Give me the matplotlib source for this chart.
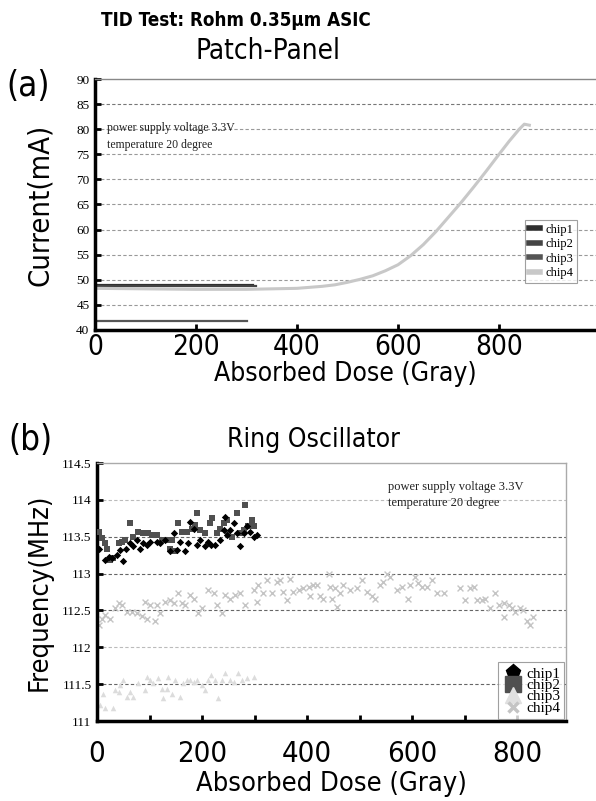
import matplotlib
matplotlib.use("Agg")
import matplotlib.pyplot as plt
from matplotlib.lines import Line2D

# ---------------- data: panel (a) Patch-Panel current ----------------
a_chip1_dose = [0, 313]
a_chip1_cur = [48.9, 48.9]
a_chip2_dose = [0, 318]
a_chip2_cur = [48.7, 48.7]
a_chip3_dose = [0, 301]
a_chip3_cur = [41.7, 41.7]
a_chip4_dose = [0, 100, 200, 300, 400, 425, 450, 475, 500, 525, 550, 575, 600, 625, 650, 675, 700,
                725, 750, 775, 800, 820, 840, 850, 860]
a_chip4_cur = [48.3, 48.2, 48.1, 48.1, 48.3, 48.5, 48.7, 49.0, 49.5, 50.1, 50.8, 51.8, 53.0, 54.8,
               57.0, 59.6, 62.5, 65.4, 68.5, 71.7, 75.0, 77.6, 80.0, 81.0, 80.8]

# ---------------- data: panel (b) Ring Oscillator frequency ----------------
b_chip1_dose = [3, 15, 22, 28, 38, 44, 50, 56, 63, 69, 76, 82, 88, 95, 101, 114, 120, 130, 139, 146,
                152, 158, 168, 174, 177, 184, 190, 196, 206, 212, 218, 225, 234, 241, 244, 247, 253,
                260, 266, 272, 279, 285, 291, 298, 304]
b_chip1_freq = [113.34, 113.18, 113.23, 113.21, 113.25, 113.32, 113.17, 113.34, 113.41, 113.37, 113.46,
                113.34, 113.41, 113.39, 113.43, 113.43, 113.41, 113.46, 113.30, 113.55, 113.32, 113.43,
                113.30, 113.41, 113.70, 113.61, 113.39, 113.46, 113.37, 113.43, 113.39, 113.39, 113.46,
                113.59, 113.77, 113.52, 113.59, 113.68, 113.55, 113.37, 113.55, 113.64, 113.57, 113.50,
                113.52]
b_chip2_dose = [3, 9, 15, 19, 25, 31, 41, 47, 53, 63, 69, 79, 88, 98, 104, 114, 123, 133, 139, 142,
                149, 155, 161, 171, 180, 187, 190, 196, 206, 215, 219, 228, 234, 241, 247, 250, 257,
                266, 272, 279, 282, 288, 295, 298]
b_chip2_freq = [113.57, 113.48, 113.41, 113.34, 113.18, 113.21, 113.41, 113.43, 113.46, 113.68, 113.50,
                113.57, 113.55, 113.55, 113.52, 113.52, 113.46, 113.46, 113.34, 113.46, 113.30, 113.68,
                113.57, 113.57, 113.61, 113.66, 113.82, 113.59, 113.55, 113.68, 113.75, 113.55, 113.61,
                113.68, 113.73, 113.55, 113.50, 113.82, 113.55, 113.59, 113.93, 113.64, 113.73, 113.64]
b_chip3_dose = [6, 12, 15, 31, 34, 41, 44, 50, 57, 63, 69, 79, 91, 95, 101, 107, 117, 123, 126, 133,
                136, 142, 149, 158, 164, 171, 177, 184, 190, 199, 206, 212, 218, 225, 231, 238, 244,
                253, 260, 269, 276, 285, 298]
b_chip3_freq = [111.22, 111.37, 111.17, 111.17, 111.42, 111.40, 111.49, 111.56, 111.33, 111.40, 111.33,
                111.51, 111.42, 111.60, 111.56, 111.51, 111.58, 111.44, 111.31, 111.44, 111.60, 111.37,
                111.56, 111.33, 111.51, 111.56, 111.56, 111.53, 111.56, 111.49, 111.42, 111.56, 111.62,
                111.56, 111.31, 111.56, 111.65, 111.56, 111.53, 111.65, 111.56, 111.58, 111.60]
b_chip4_dose = [3, 9, 15, 25, 34, 41, 47, 57, 66, 76, 85, 91, 95, 101, 111, 114, 120, 130, 139, 146,
                155, 161, 168, 177, 184, 193, 200, 212, 222, 228, 238, 244, 253, 263, 272, 282, 298,
                304, 307, 317, 323, 333, 342, 349, 355, 361, 368, 374, 384, 393, 403, 406, 412, 418,
                425, 431, 441, 444, 447, 453, 457, 463, 469, 482, 495, 504, 514, 523, 530, 539, 545,
                552, 558, 571, 580, 593, 596, 606, 612, 618, 628, 638, 647, 660, 692, 701, 711, 717,
                723, 733, 739, 749, 758, 765, 774, 774, 784, 790, 796, 806, 812, 818, 825, 831]
b_chip4_freq = [112.30, 112.39, 112.44, 112.39, 112.53, 112.60, 112.57, 112.48, 112.48, 112.46, 112.42,
                112.62, 112.39, 112.57, 112.35, 112.57, 112.46, 112.62, 112.64, 112.60, 112.73, 112.60,
                112.57, 112.71, 112.66, 112.46, 112.53, 112.78, 112.73, 112.57, 112.46, 112.71, 112.66,
                112.71, 112.73, 112.57, 112.78, 112.62, 112.84, 112.73, 112.91, 112.73, 112.89, 112.91,
                112.75, 112.64, 112.93, 112.75, 112.78, 112.80, 112.82, 112.69, 112.84, 112.84, 112.69,
                112.66, 113.00, 112.82, 112.66, 112.80, 112.55, 112.73, 112.84, 112.78, 112.80, 112.91,
                112.75, 112.69, 112.66, 112.84, 112.89, 113.00, 112.96, 112.78, 112.82, 112.66, 112.84,
                112.96, 112.87, 112.82, 112.82, 112.91, 112.73, 112.73, 112.80, 112.64, 112.80, 112.82,
                112.64, 112.64, 112.66, 112.53, 112.73, 112.57, 112.60, 112.41, 112.57, 112.53, 112.48,
                112.53, 112.50, 112.35, 112.30, 112.41]

chip_labels = ["chip1", "chip2", "chip3", "chip4"]
a_yticks = [40, 45, 50, 55, 60, 65, 70, 75, 80, 85, 90]
b_yticks = [111, 111.5, 112, 112.5, 113, 113.5, 114, 114.5]
b_ytick_labels = ["111", "111.5", "112", "112.5", "113", "113.5", "114", "114.5"]
x_big_ticks = [0, 200, 400, 600, 800]

# ---------------- styling ----------------
SANS = ["DejaVu Sans"]
SERIF = ["Liberation Serif", "DejaVu Serif"]
sans_kw = dict(family=SANS, stretch="condensed")

W, H = 596, 801
fig = plt.figure(figsize=(W / 100, H / 100), dpi=100)

def ax_rect(l, t, r, b):
    return [l / W, 1 - b / H, (r - l) / W, (b - t) / H]

# ================= panel (a) =================
axa = fig.add_axes(ax_rect(95, 79, 596, 330))
axa.plot(a_chip1_dose, a_chip1_cur, color="#2e2e2e", lw=1.6, label=chip_labels[0])
axa.plot(a_chip2_dose, a_chip2_cur, color="#444444", lw=1.6, label=chip_labels[1])
axa.plot(a_chip3_dose, a_chip3_cur, color="#555555", lw=1.6, label=chip_labels[2])
axa.plot(a_chip4_dose, a_chip4_cur, color="#c8c8c8", lw=2.2, label=chip_labels[3])
axa.set_xlim(0, 992)
axa.set_ylim(40, 90)
axa.set_yticks(a_yticks)
axa.set_yticklabels([str(v) for v in a_yticks], family=SERIF, fontsize=9.5)
axa.set_xticks(x_big_ticks)
axa.set_xticklabels([str(v) for v in x_big_ticks], fontsize=20, **sans_kw)
axa.tick_params(axis="both", direction="in", length=4, width=2, color="black")
axa.tick_params(axis="x", pad=2)
axa.tick_params(axis="y", pad=4)
for v in a_yticks[1:-1]:
    axa.axhline(v, color="#777777" if v == 85 else "#999999", lw=0.8, ls=(0, (3, 2)), zorder=0)
axa.spines["left"].set_linewidth(2.5)
axa.spines["bottom"].set_linewidth(2.5)
axa.spines["top"].set_color("#888888")
axa.spines["top"].set_linewidth(1.0)
axa.spines["right"].set_visible(False)
axa.text(0.024, 0.77, "power supply voltage 3.3V\ntemperature 20 degree", transform=axa.transAxes,
         family=SERIF, fontsize=8.5, va="center", ha="left", linespacing=1.5, color="#222222")
leg_a = axa.legend(loc="upper left", bbox_to_anchor=((525 - 95) / 501, (330 - 220) / 251),
                   prop={"family": SERIF, "size": 9}, frameon=True, fancybox=False,
                   handlelength=0.9, handletextpad=0.4, borderpad=0.3, labelspacing=0.2,
                   borderaxespad=0)
leg_a.get_frame().set_edgecolor("#888888")
leg_a.get_frame().set_linewidth(0.8)
for lh in leg_a.get_lines():
    lh.set_linewidth(4)

axa.set_xlabel("Absorbed Dose (Gray)", fontsize=19, labelpad=0, **sans_kw)
fig.text(40 / W, 1 - 205 / H, "Current(mA)", rotation=90, ha="center", va="center",
         fontsize=21, **sans_kw)

# ================= panel (b) =================
axb = fig.add_axes(ax_rect(97, 463, 566, 721))
axb.scatter(b_chip4_dose, b_chip4_freq, marker="x", s=18, color="#c4c4c4", linewidths=1.0,
            label=chip_labels[3], zorder=2)
axb.scatter(b_chip3_dose, b_chip3_freq, marker="^", s=16, color="#dcdcdc", linewidths=0,
            label=chip_labels[2], zorder=2)
axb.scatter(b_chip2_dose, b_chip2_freq, marker="s", s=24, color="#505050", linewidths=0,
            label=chip_labels[1], zorder=3)
axb.scatter(b_chip1_dose, b_chip1_freq, marker="D", s=14, color="black", linewidths=0,
            label=chip_labels[0], zorder=4)
axb.set_xlim(0, 893)
axb.set_ylim(111, 114.5)
axb.set_yticks(b_yticks)
axb.set_yticklabels(b_ytick_labels, family=SERIF, fontsize=9.5)
axb.set_xticks(list(range(0, 900, 100)))
axb.set_xticklabels([str(v) if v in x_big_ticks else "" for v in range(0, 900, 100)],
                    fontsize=21, **sans_kw)
axb.tick_params(axis="both", direction="in", length=4, width=2, color="black")
axb.tick_params(axis="x", pad=14)
axb.tick_params(axis="y", pad=4)
for v in b_yticks[1:-1]:
    axb.axhline(v, color="#bbbbbb" if v in (114, 112) else "#666666", lw=0.8,
                ls=(0, (3, 2)), zorder=0)
axb.spines["left"].set_linewidth(2.5)
axb.spines["bottom"].set_linewidth(2.5)
for s in ("top", "right"):
    axb.spines[s].set_color("#aaaaaa")
    axb.spines[s].set_linewidth(1.0)
axb.text(0.62, 0.875, "power supply voltage 3.3V\ntemperature 20 degree", transform=axb.transAxes,
         family=SERIF, fontsize=9, va="center", ha="left", linespacing=1.4, color="#222222")
handles = [
    Line2D([], [], ls="none", marker="p", ms=11, color="black"),
    Line2D([], [], ls="none", marker="s", ms=11, color="#505050"),
    Line2D([], [], ls="none", marker="^", ms=11, color="#e0e0e0"),
    Line2D([], [], ls="none", marker="x", ms=7, mew=2.5, color="#c4c4c4"),
]
leg_b = axb.legend(handles, chip_labels, loc="lower right", prop={"family": SERIF, "size": 11},
                   frameon=True, fancybox=False, handlelength=1.3, handletextpad=0.2,
                   borderpad=0.3, labelspacing=-0.15, borderaxespad=0.1)
leg_b.get_frame().set_edgecolor("#888888")
leg_b.get_frame().set_linewidth(0.8)

axb.set_xlabel("Absorbed Dose (Gray)", fontsize=19.5, labelpad=2, **sans_kw)
fig.text(40 / W, 1 - 592 / H, "Frequency(MHz)", rotation=90, ha="center", va="center",
         fontsize=19.5, **sans_kw)

# ================= titles / panel letters =================
fig.text(236 / W, 1 - 20 / H, "TID Test: Rohm 0.35\u03bcm ASIC", ha="center", va="center",
         fontsize=13.5, fontweight="bold", **sans_kw)
fig.text(268 / W, 1 - 51 / H, "Patch-Panel", ha="center", va="center", fontsize=20, **sans_kw)
fig.text(28 / W, 1 - 86 / H, "(a)", ha="center", va="center", fontsize=25, **sans_kw)
fig.text(313 / W, 1 - 440 / H, "Ring Oscillator", ha="center", va="center", fontsize=19, **sans_kw)
fig.text(30 / W, 1 - 440 / H, "(b)", ha="center", va="center", fontsize=25, **sans_kw)

fig.savefig("out.png", dpi=100)
